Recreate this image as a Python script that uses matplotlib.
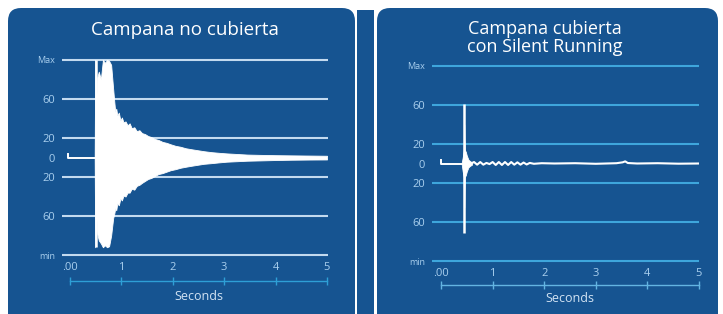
import matplotlib
matplotlib.use("Agg")
import matplotlib.pyplot as plt
from matplotlib.patches import FancyBboxPatch, Rectangle
from matplotlib.transforms import IdentityTransform

# y scale is symmetric: Max = 100, min = -100
ytick_vals = [100, 60, 20, 0, -20, -60, -100]
ytick_labels = ["Max", "60", "20", "0", "20", "60", "min"]
xtick_vals = [0, 1, 2, 3, 4, 5]
xtick_labels = [".00", "1", "2", "3", "4", "5"]

# left panel: uncovered bell (envelope)
left_pre_t = [-0.03, -0.03, 0.48]
left_pre_v = [4, 0, 0]
left_strike_t = 0.50
left_strike_range = (-92, 100)
left_t = [0.48, 0.49, 0.51, 0.53, 0.56, 0.60, 0.64, 0.68, 0.72, 0.76,
          0.80, 0.84, 0.86, 0.88, 0.90, 0.92, 0.95, 0.98, 1.01, 1.04,
          1.08, 1.12, 1.16, 1.20, 1.25, 1.30, 1.35, 1.40, 1.46, 1.52,
          1.58, 1.65, 1.72, 1.80, 1.88, 1.96, 2.05, 2.15, 2.25, 2.36,
          2.48, 2.60, 2.75, 2.90, 3.05, 3.25, 3.45, 3.70, 4.00, 4.30,
          4.65, 5.00]
left_upper = [1, 100, 60, 82, 88, 80, 100, 97, 100, 99,
              95, 70, 58, 47, 50, 43, 46, 38, 41, 36,
              37, 33, 35, 30, 31, 27, 28, 25, 24, 22,
              21, 19, 18, 16, 15, 13.5, 12, 11, 9.5, 8.5,
              7.5, 6.5, 5.5, 4.8, 4.2, 3.6, 3.0, 2.7, 2.4, 2.2,
              2.0, 1.8]
left_lower = [-1, -92, -60, -78, -85, -88, -92, -90, -92, -91,
              -80, -62, -58, -52, -54, -47, -49, -42, -44, -39,
              -40, -36, -36, -32, -33, -29, -28, -26, -24, -22,
              -21, -19, -17, -16, -14.5, -13, -12, -10.5, -9.5, -8.5,
              -7.5, -6.5, -5.8, -5, -4.3, -3.8, -3.3, -3, -2.6, -2.3,
              -2.1, -2]

# right panel: covered bell with Silent Running
right_pre_t = [0.0, 0.0, 0.40]
right_pre_v = [4, 0, 0]
right_strike_t = 0.45
right_strike_range = (-71, 61)
right_t = [0.40, 0.42, 0.44, 0.45, 0.46, 0.48, 0.50, 0.53, 0.56, 0.60]
right_upper = [0.5, 6, 14, 40, 14, 12, 8, 4, 2.5, 1.2]
right_lower = [-0.5, -8, -14, -45, -14, -12, -8, -4, -2.5, -1.2]
right_tail_t = [0.58, 0.64, 0.70, 0.76, 0.82, 0.88, 0.94, 1.00, 1.06, 1.12, 1.18,
                1.24, 1.30, 1.36, 1.42, 1.48, 1.54, 1.60, 1.66, 1.72, 1.80, 1.95,
                2.2, 2.6, 3.0, 3.4, 3.52, 3.57, 3.62, 3.8, 4.2, 4.6, 5.0]
right_tail_v = [0, 1.5, -1.2, 1.5, -1.2, 0.6, -0.6, 1.5, -1.5, 1.5, -1.5, 1.5,
                -1.5, 1.5, -1.2, 1.2, -1.2, 1.0, -1.0, 0.6, -0.3, 0.3, 0, 0.3,
                -0.3, 0.3, 1.2, 2.2, 0.5, 0, 0.3, -0.2, 0]

PANEL = "#165491"
LABEL = "#a9cfee"
TEXT = "#d2e3f3"
W, H = 723, 314

plt.rcParams["font.family"] = ["Open Sans", "DejaVu Sans"]

fig = plt.figure(figsize=(W / 100, H / 100), dpi=100)
fig.patch.set_facecolor("white")

# background panels (pixel coords, origin bottom-left)
for x0, x1 in [(8, 355), (377, 718)]:
    fig.patches.append(FancyBboxPatch((x0, -30), x1 - x0, H - 8 + 30,
                                      boxstyle="round,pad=0,rounding_size=13",
                                      transform=IdentityTransform(),
                                      facecolor=PANEL, edgecolor="none", zorder=-5))
fig.patches.append(Rectangle((357, -10), 17, H - 10 + 10, transform=IdentityTransform(),
                             facecolor=PANEL, edgecolor="none", zorder=-5))


def draw_panel(rect, xlim, grid_color, axis_color, axis_off, lab_off, sec_off,
               pre, strike_t, strike_rng, env_t, up, lo, tail=None):
    ax = fig.add_axes(rect)
    ax.set_zorder(2)
    ax.set_facecolor("none")
    ax.set_xlim(*xlim)
    ax.set_ylim(-102, 102)
    for s in ax.spines.values():
        s.set_visible(False)

    for v in ytick_vals:
        if v != 0:
            ax.axhline(v, color=grid_color, lw=1.5, zorder=1)

    ax.set_yticks(ytick_vals)
    ax.set_yticklabels(ytick_labels)
    ax.tick_params(axis="y", length=0, pad=5, labelcolor=LABEL, labelsize=8)
    for lbl in ax.get_yticklabels():
        if lbl.get_text() in ("Max", "min"):
            lbl.set_fontsize(6.5)

    ax.set_xticks([])
    axh = rect[3] * H
    xt = ax.get_xaxis_transform()
    for v, s in zip(xtick_vals, xtick_labels):
        ax.text(v, -lab_off / axh, s, transform=xt, ha="center", va="center",
                color=LABEL, fontsize=8, clip_on=False)
    ax.plot(xtick_vals, [-axis_off / axh] * len(xtick_vals), transform=xt,
            color=axis_color, lw=1.0, marker="|", ms=6, mew=1.0, clip_on=False)
    ax.text(2.5, -sec_off / axh, "Seconds", transform=xt, ha="center", va="center",
            color=TEXT, fontsize=9, clip_on=False)

    ax.plot(pre[0], pre[1], color="white", lw=1.4, zorder=3)
    ax.vlines(strike_t, *strike_rng, color="white", lw=1.8, zorder=3)
    ax.fill_between(env_t, lo, up, color="white", lw=0.6, edgecolor="white", zorder=3)
    if tail is not None:
        ax.plot(tail[0], tail[1], color="white", lw=1.5, zorder=3)
    return ax


draw_panel([61.8 / W, (H - 257) / H, 266.2 / W, 199 / H], (-0.16, 5.02),
           "#c3daef", "#2e9fd6", 24, 10, 39,
           (left_pre_t, left_pre_v), left_strike_t, left_strike_range,
           left_t, left_upper, left_lower)

draw_panel([432 / W, (H - 263) / H, 267 / W, 199 / H], (-0.175, 5.0),
           "#3ea6dc", "#63b4e2", 22, 11, 36,
           (right_pre_t, right_pre_v), right_strike_t, right_strike_range,
           right_t, right_upper, right_lower, (right_tail_t, right_tail_v))

fig.text(185 / W, 1 - 30 / H, "Campana no cubierta", ha="center", va="center",
         color="white", fontsize=13.5)
fig.text(545 / W, 1 - 38 / H, "Campana cubierta\ncon Silent Running", ha="center",
         va="center", color="white", fontsize=13, linespacing=1.0)

fig.savefig("out.png", dpi=100, facecolor="white")
